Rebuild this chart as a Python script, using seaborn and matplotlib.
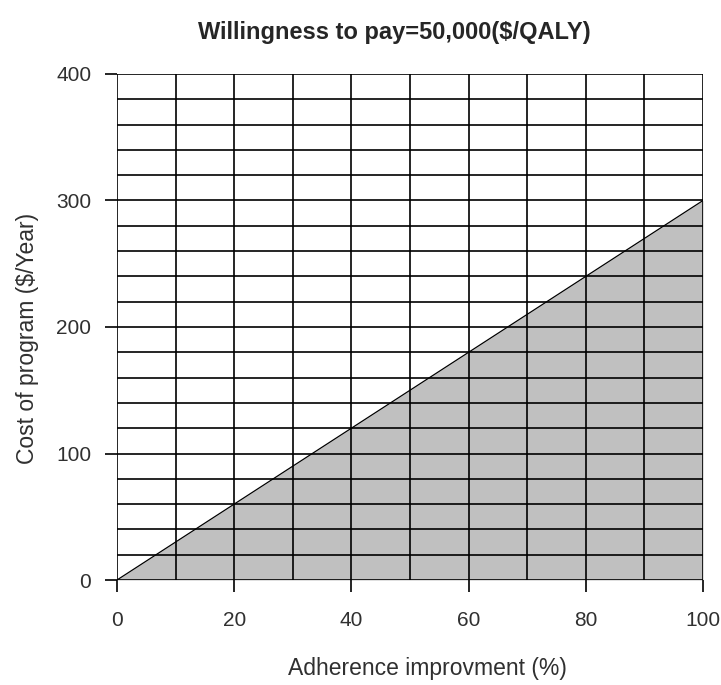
import matplotlib
matplotlib.use("Agg")
import matplotlib.pyplot as plt
import seaborn as sns
import numpy as np
import pandas as pd

adherence = [0, 100]
cost = [0, 300]
x_ticks = [0, 20, 40, 60, 80, 100]
y_ticks = [0, 100, 200, 300, 400]

sns.set_style("white")
plt.rcParams['font.family'] = ['Liberation Sans', 'DejaVu Sans']

W, H = 721, 685
fig = plt.figure(figsize=(W/100, H/100), dpi=100)
L, R, T, B = 117, 703, 74, 580
ax = fig.add_axes([L/W, 1-B/H, (R-L)/W, (B-T)/H])

df = pd.DataFrame({"x": adherence, "y": cost})
ax.fill_between(df["x"], 0, df["y"], color="#c0c0c0", zorder=1, linewidth=0)
sns.lineplot(data=df, x="x", y="y", ax=ax, color="black", linewidth=0.9, zorder=3)

ax.set_xlim(0, 100)
ax.set_ylim(0, 400)
ax.set_xticks(x_ticks)
ax.set_yticks(y_ticks)
ax.set_xticks(np.arange(0, 101, 10), minor=True)
ax.set_yticks(np.arange(0, 401, 20), minor=True)
ax.set_axisbelow(False)
ax.grid(True, which="both", color="black", linewidth=1.2)
for s in ax.spines.values():
    s.set_visible(False)
ax.tick_params(which="major", direction="out", length=8.6, width=1.2, color="black",
               labelsize=15, left=True, bottom=True)
ax.tick_params(axis="x", which="major", pad=13.5)
ax.tick_params(axis="y", which="major", pad=10)
ax.tick_params(which="minor", length=0)
ax.set_xticklabels([str(v) for v in x_ticks], color="#303030")
ax.set_yticklabels([str(v) for v in y_ticks], color="#303030")

ax.set_xlabel("Adherence improvment (%)", fontsize=16.5, color="#303030")
ax.set_ylabel("Cost of program ($/Year)", fontsize=16.5, color="#303030")
ax.xaxis.set_label_coords((427.5-L)/(R-L), (B-669)/(B-T))
ax.xaxis.label.set_va("center")
ax.yaxis.set_label_coords((27-L)/(R-L), (B-338)/(B-T))
ax.yaxis.label.set_va("center")
fig.suptitle("Willingness to pay=50,000($/QALY)", fontsize=17, fontweight="bold",
             x=394.5/W, y=1-32/H, va="center")

fig.savefig("out.png", dpi=100, facecolor="white")
